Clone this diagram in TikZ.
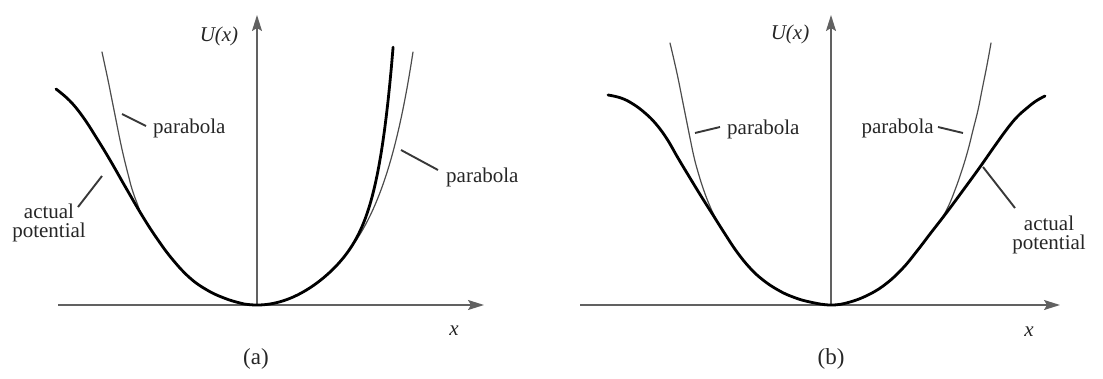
\documentclass[tikz,border=0pt]{standalone}
\usepackage{fontspec}
\setmainfont{Liberation Serif}
\usetikzlibrary{arrows.meta}
\begin{document}
\begin{tikzpicture}[x=1pt,y=-1pt,
  axis/.style={draw=black!62,line width=1.5pt,-{Stealth[length=16pt,width=10pt,inset=3pt]}},
  actual/.style={draw=black,line width=2.8pt,line cap=round,line join=round},
  parab/.style={draw=black!70,line width=1.2pt,line cap=round},
  leader/.style={draw=black!78,line width=1.9pt},
  lbl/.style={text=black!85,font=\fontsize{21}{22}\selectfont,inner sep=0pt},
  panelcap/.style={text=black!85,font=\fontsize{23}{24}\selectfont,inner sep=0pt}]
\useasboundingbox (0,0) rectangle (1103,378);
% ---------- panel (a) ----------
\coordinate (aO) at (257,305);
\coordinate (aL) at (58,305);
\coordinate (aR) at (484,305);
\coordinate (aT) at (257,15);
\draw[axis] (aL) -- (aR);
\draw[axis] (aO) -- (aT);
\draw[parab] plot[smooth,tension=0.7] coordinates {(102,52) (105,66) (108,80) (112,100) (116,120) (120,140) (124,158) (128,174) (132,189) (137,203) (143,217) (158,240) (173,260) (190,278) (207,290) (224,298) (240,303) (257,305)};
\draw[parab] plot[domain=0:1.56,samples=80,variable=\t] ({257+100*\t},{305-61.3*\t*\t-4.62*\t^7});
\draw[actual] plot[smooth,tension=0.7] coordinates {(56,89) (70,101) (83,117) (96,137) (110,160) (126,188) (143,217) (158,240) (173,260) (190,278) (207,290) (224,298) (240,303) (249,304.6) (257,305)}
  -- plot[domain=0:1.362,samples=80,variable=\t] ({257+100*\t},{305-61.3*\t*\t-6.62*\t^10});
\node[lbl,anchor=west] (aP1) at (153,128) {parabola};
\node[lbl,anchor=west] (aP2) at (446,177) {parabola};
\node[lbl,align=center] (aA) at (49,223) {actual\\[-3pt]potential};
\coordinate (aP1s) at (122,114);
\coordinate (aP1e) at (146,126);
\coordinate (aP2s) at (401,150);
\coordinate (aP2e) at (438,170);
\coordinate (aAs) at (102,176);
\coordinate (aAe) at (78,207);
\draw[leader] (aP1s) -- (aP1e);
\draw[leader] (aP2s) -- (aP2e);
\draw[leader] (aAs) -- (aAe);
\node[lbl] (aU) at (219,36) {\itshape U(x)};
\node[lbl] (ax) at (454,331) {\itshape x};
\node[panelcap] (acap) at (256,359) {(a)};
% ---------- panel (b) ----------
\coordinate (bO) at (831,305);
\coordinate (bL) at (580,305);
\coordinate (bR) at (1060,305);
\coordinate (bT) at (831,15);
\draw[axis] (bL) -- (bR);
\draw[axis] (bO) -- (bT);
\draw[parab] plot[smooth,tension=0.7] coordinates {(670,43) (674,60) (678,78) (682,98) (686,118) (690,138) (694,157) (698,172) (703,188) (709,204) (716,219) (725,234) (737,252) (750,268) (763,280) (778,290) (793,297) (810,302) (831,305)};
\draw[parab] plot[smooth,tension=0.7] coordinates {(831,305) (850,302) (870,294) (887,283) (903,268) (917,251) (930,234) (940,221) (948,207) (955,190) (962,170) (968,150) (973,130) (978,110) (982,90) (987,65) (991,43)};
\draw[actual] plot[smooth,tension=0.7] coordinates {(608,95) (621,98) (633,104) (645,113) (656,124) (667,139) (678,158) (690,178) (701,196) (713,215) (725,234) (737,252) (750,268) (763,280) (778,290) (793,297) (810,302) (831,305) (850,302) (870,294) (887,283) (903,268) (917,251) (930,234) (947,212) (964,189) (980,167) (994,147) (1007,129) (1017,117) (1027,108) (1036,101) (1045,96)};
\node[lbl,anchor=west] (bP1) at (727,129) {parabola};
\node[lbl,anchor=east] (bP2) at (934,128) {parabola};
\node[lbl,align=center] (bA) at (1049,235) {actual\\[-3pt]potential};
\coordinate (bP1s) at (695,133);
\coordinate (bP1e) at (720,127);
\coordinate (bP2s) at (938,127);
\coordinate (bP2e) at (963,133);
\coordinate (bAs) at (983,167);
\coordinate (bAe) at (1015,208);
\draw[leader] (bP1s) -- (bP1e);
\draw[leader] (bP2s) -- (bP2e);
\draw[leader] (bAs) -- (bAe);
\node[lbl] (bU) at (790,34) {\itshape U(x)};
\node[lbl] (bx) at (1029,332) {\itshape x};
\node[panelcap] (bcap) at (831,359) {(b)};
\end{tikzpicture}
\end{document}
